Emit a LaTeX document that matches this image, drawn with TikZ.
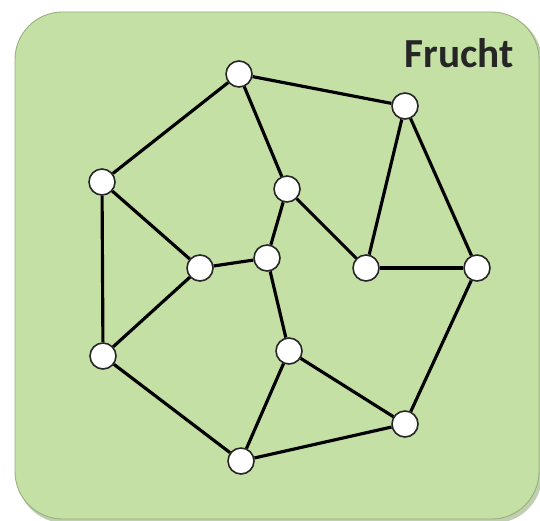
\documentclass[tikz,border=0pt]{standalone}
\usepackage{fontspec}
\setmainfont{Carlito}
\usepackage{tikz}
\usetikzlibrary{positioning}
\definecolor{panelgreen}{RGB}{197,224,165}
\definecolor{paneledge}{RGB}{150,175,125}

\begin{document}
\begin{tikzpicture}[x=0.02cm, y=-0.02cm,
  vertex/.style={circle, draw=black!85, line width=0.9pt, fill=white, minimum size=0.52cm, inner sep=0pt},
  edge/.style={line width=1.8pt, black}]
  \useasboundingbox (0,0) rectangle (540,520);
  % Panel
  \fill[paneledge!60, rounded corners=0.95cm] (17,14) rectangle (542,523);
  \filldraw[fill=panelgreen, draw=paneledge, line width=0.5pt, rounded corners=0.95cm] (15,12) rectangle (539,519);
  \node[font=\bfseries\fontsize{23.5}{28}\selectfont, text=black!85] (title) at (459,53) {Frucht};
  % Vertices
  \node[vertex] (a) at (239,74) {};
  \node[vertex] (b) at (405,106) {};
  \node[vertex] (c) at (102,182) {};
  \node[vertex] (d) at (287,189) {};
  \node[vertex] (e) at (200,268) {};
  \node[vertex] (f) at (267,258) {};
  \node[vertex] (g) at (366,268) {};
  \node[vertex] (h) at (477,268) {};
  \node[vertex] (i) at (103,356) {};
  \node[vertex] (j) at (289,351) {};
  \node[vertex] (k) at (405,424) {};
  \node[vertex] (l) at (241,461) {};
  % Edges
  \foreach \u/\v in {a/b, a/c, a/d, b/g, b/h, c/e, c/i, d/f, d/g, e/f, e/i, f/j, g/h, h/k, i/l, j/k, j/l, k/l}
    \draw[edge] (\u) -- (\v);
\end{tikzpicture}
\end{document}
